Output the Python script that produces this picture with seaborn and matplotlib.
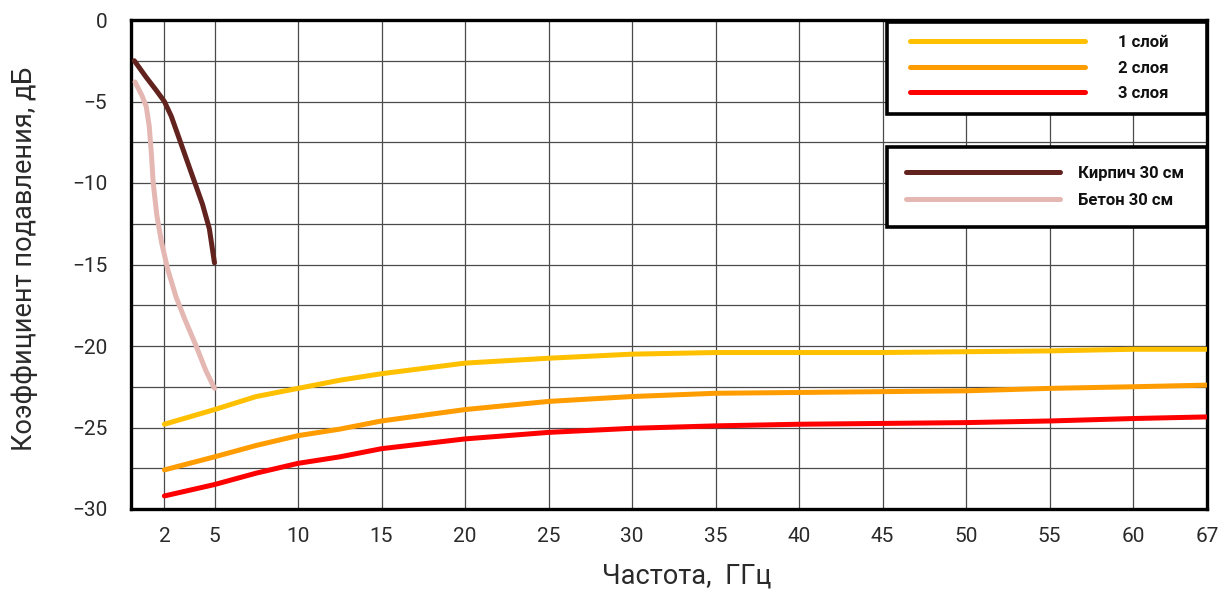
import numpy as np
import pandas as pd
import matplotlib
matplotlib.use("Agg")
import matplotlib.pyplot as plt
import seaborn as sns
from matplotlib.ticker import MultipleLocator, FixedLocator
from matplotlib.lines import Line2D
from matplotlib.legend_handler import HandlerLine2D

# ==========================================
# DATA
# ==========================================

freq_layers = [2, 5, 7.5, 10, 12.5, 15, 20, 25, 30, 35, 40, 45, 50, 55, 60, 67]
layer1 = [-24.8, -23.9, -23.1, -22.6, -22.1, -21.7, -21.05, -20.75, -20.5, -20.4,
          -20.4, -20.4, -20.35, -20.3, -20.2, -20.2]
layer2 = [-27.6, -26.8, -26.1, -25.5, -25.1, -24.6, -23.9, -23.4, -23.1, -22.9,
          -22.85, -22.8, -22.75, -22.6, -22.5, -22.4]
layer3 = [-29.2, -28.5, -27.8, -27.2, -26.8, -26.3, -25.7, -25.3, -25.05, -24.9,
          -24.8, -24.75, -24.7, -24.6, -24.45, -24.35]

freq_brick = [0.2, 0.9, 1.5, 2.0, 2.41, 2.93, 3.55, 4.28, 4.69, 5.0]
brick = [-2.5, -3.5, -4.3, -5.0, -5.9, -7.4, -9.2, -11.3, -12.8, -14.9]

freq_concrete = [0.24, 0.64, 0.91, 1.09, 1.22, 1.33, 1.55, 1.82, 2.2, 2.7, 3.24, 3.86, 4.48, 5.0]
concrete = [-3.8, -4.6, -5.3, -6.5, -8.2, -10.0, -12.0, -13.6, -15.3, -17.0, -18.4, -19.9, -21.5, -22.6]

layer_names = ["1 слой", "2 слоя", "3 слоя"]
wall_names = ["Кирпич 30 см", "Бетон 30 см"]
x_ticks = [2, 5, 10, 15, 20, 25, 30, 35, 40, 45, 50, 55, 60, 67]
y_ticks = [0, -5, -10, -15, -20, -25, -30]

colors = {
    "1 слой": "#FFC000",
    "2 слоя": "#FF9C00",
    "3 слоя": "#FF0000",
    "Кирпич 30 см": "#62231F",
    "Бетон 30 см": "#E5B7B2",
}

# ==========================================
# STYLE
# ==========================================

sns.set_style("white")
plt.rcParams["font.family"] = ["Roboto", "DejaVu Sans"]

fig = plt.figure(figsize=(12.23, 5.95), dpi=100)
ax = fig.add_axes([131 / 1223, 1 - 509 / 595, 1076 / 1223, 489 / 595])

# last interval (60..67) is drawn compressed in the original
K = 0.633

def fwd(x):
    x = np.asarray(x, dtype=float)
    return np.where(x <= 60, x, 60 + (x - 60) * K)

def inv(x):
    x = np.asarray(x, dtype=float)
    return np.where(x <= 60, x, 60 + (x - 60) / K)

ax.set_xscale("function", functions=(fwd, inv))

# ==========================================
# CURVES
# ==========================================

layers_df = pd.DataFrame({
    "f": freq_layers * 3,
    "v": layer1 + layer2 + layer3,
    "s": sum([[n] * len(freq_layers) for n in layer_names], []),
})

lw = 3.6
for name in layer_names:
    d = layers_df[layers_df["s"] == name]
    sns.lineplot(data=d, x="f", y="v", ax=ax, color=colors[name], lw=lw,
                 label=name, legend=False, sort=False, solid_capstyle="round", zorder=4)

sns.lineplot(x=freq_brick, y=brick, ax=ax, color=colors["Кирпич 30 см"], lw=lw,
             label="Кирпич 30 см", legend=False, sort=False, solid_capstyle="round",
             solid_joinstyle="round", zorder=4)
sns.lineplot(x=freq_concrete, y=concrete, ax=ax, color=colors["Бетон 30 см"], lw=lw,
             label="Бетон 30 см", legend=False, sort=False, solid_capstyle="round",
             solid_joinstyle="round", zorder=3)

# ==========================================
# AXES
# ==========================================

txt = "#2a2a2a"
ax.set_xlim(0, 67)
ax.set_ylim(-30, 0)
ax.xaxis.set_major_locator(FixedLocator(x_ticks))
ax.yaxis.set_major_locator(FixedLocator(y_ticks))
ax.yaxis.set_minor_locator(MultipleLocator(2.5))
ax.set_xticklabels([str(t) for t in x_ticks])
ax.set_yticklabels([str(t).replace("-", "\u2212") for t in y_ticks])

ax.grid(True, which="both", color="#4a4a4a", lw=0.9)
ax.tick_params(which="both", length=0)
ax.tick_params(axis="x", pad=13, labelsize=15, labelcolor=txt)
ax.tick_params(axis="y", pad=17, labelsize=15, labelcolor=txt)

for sp in ax.spines.values():
    sp.set_visible(True)
    sp.set_color("black")
    sp.set_linewidth(2.4)

ax.set_xlabel("Частота,  ГГц", fontsize=19.5, color=txt)
ax.set_ylabel("Коэффициент подавления, дБ", fontsize=19.5, color=txt)
ax.xaxis.set_label_coords(0.516, -0.11)
ax.yaxis.set_label_coords(-0.086, 0.512)

# ==========================================
# LEGENDS
# ==========================================

handles = {l.get_label(): l for l in ax.get_lines()}

ax_w, ax_h = 1076, 489

def box(x0, y0, x1, y1):
    # pixel box in figure -> axes fraction
    return ((x0 - 131) / ax_w, (509 - y1) / ax_h, (x1 - x0) / ax_w, (y1 - y0) / ax_h)

leg1 = ax.legend([handles[n] for n in layer_names], layer_names,
                 loc="upper left", bbox_to_anchor=box(887, 22, 1207, 112), mode="expand",
                 handlelength=11.1, handletextpad=1.95, labelspacing=0.62, borderpad=0.8,
                 borderaxespad=0, fancybox=False, framealpha=1, edgecolor="black",
                 handler_map={Line2D: HandlerLine2D(xpad=0.6)},
                 prop={"size": 12, "weight": "bold"})
leg1.get_frame().set_linewidth(2.6)
ax.add_artist(leg1)

leg2 = ax.legend([handles[n] for n in wall_names], wall_names,
                 loc="upper left", bbox_to_anchor=box(887, 147, 1207, 225), mode="expand",
                 handlelength=9.2, handletextpad=1.1, labelspacing=0.72, borderpad=1.15,
                 borderaxespad=0, fancybox=False, framealpha=1, edgecolor="black",
                 prop={"size": 12, "weight": "bold"})
leg2.get_frame().set_linewidth(2.6)
for leg in (leg1, leg2):
    for t in leg.get_texts():
        t.set_color("#111111")
    leg.set_zorder(6)

fig.savefig("out.png", dpi=100)
